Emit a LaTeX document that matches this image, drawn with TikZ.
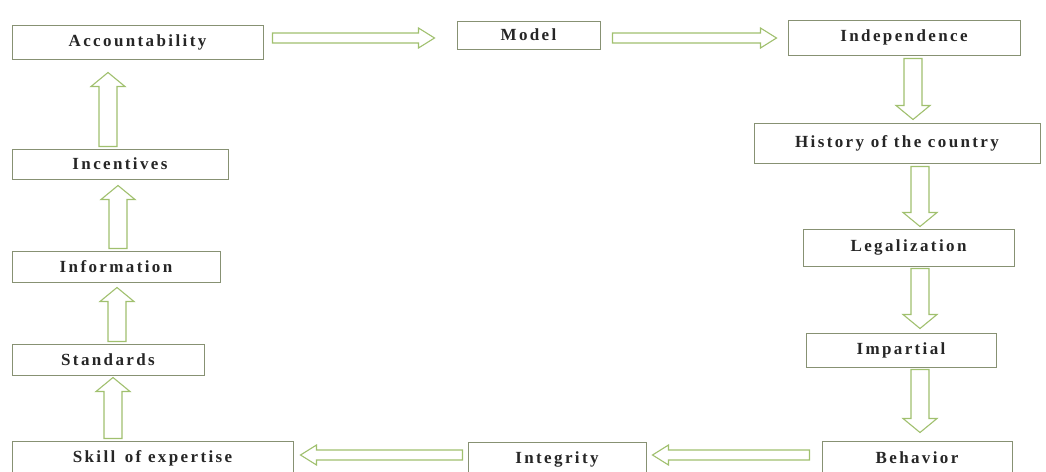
\documentclass[tikz,border=0pt]{standalone}
\usepackage{fontspec}
\usepackage{tikz}
\usepackage{xcolor}
\usetikzlibrary{calc}
\newfontfamily\boxfont{Liberation Serif}[LetterSpace=14]
\definecolor{boxline}{RGB}{135,145,115}
\definecolor{arrowgreen}{RGB}{160,192,110}
\tikzset{
  box/.style={draw=boxline, line width=1pt, fill=white, inner sep=0pt,
    font=\boxfont\bfseries\fontsize{17}{20}\selectfont, text=black!85},
  blockline/.style={draw=arrowgreen, line width=1.1pt, fill=white, line join=miter}
}
% hollow block arrow: shaft half width, head half width, head length, from, to
\newcommand{\barrow}[5]{%
  \coordinate (bs) at (#4);
  \coordinate (bt) at (#5);
  \coordinate (bh) at ($(bt)!#3pt!(bs)$);
  \draw[blockline] ($(bs)!#1pt!90:(bt)$) -- ($(bh)!#1pt!90:(bt)$) -- ($(bh)!#2pt!90:(bt)$)
    -- (bt) -- ($(bh)!#2pt!-90:(bt)$) -- ($(bh)!#1pt!-90:(bt)$) -- ($(bs)!#1pt!-90:(bt)$) -- cycle;}
\newcommand{\harrow}[2]{\barrow{5}{10}{16}{#1}{#2}}
\newcommand{\varrow}[2]{\barrow{9}{17}{14}{#1}{#2}}

\begin{document}
\begin{tikzpicture}[x=1pt,y=-1pt]
\useasboundingbox (0,0) rectangle (1046,471);
% top row
\node[box, minimum width=251pt, minimum height=34pt] (acc) at (137.5,42) {Accountability};
\node[box, minimum width=143pt, minimum height=28pt] (mod) at (528.5,35) {Model};
\node[box, minimum width=232pt, minimum height=35pt] (ind) at (904,37.5) {Independence};
% right column
\node[box, minimum width=286pt, minimum height=40pt] (his) at (897,143) {History of the country};
\node[box, minimum width=211pt, minimum height=37pt] (leg) at (908.5,247.5) {Legalization};
\node[box, minimum width=190pt, minimum height=34pt] (imp) at (901,350) {Impartial};
% bottom row
\node[box, minimum width=190pt, minimum height=34pt] (beh) at (917,458) {Behavior};
\node[box, minimum width=178pt, minimum height=34pt] (int) at (557,459) {Integrity};
\node[box, minimum width=281pt, minimum height=34pt] (skl) at (152.5,458) {Skill \,of expertise};
% left column
\node[box, minimum width=192pt, minimum height=31pt] (std) at (108,359.5) {Standards};
\node[box, minimum width=208pt, minimum height=31pt] (inf) at (116,266.5) {Information};
\node[box, minimum width=216pt, minimum height=30pt] (inc) at (120,164) {Incentives};

\harrow{$(acc.east)+(9,-4)$}{$(mod.west)+(-22,3)$}
\harrow{$(mod.east)+(12,3)$}{$(ind.west)+(-11,0.5)$}
\varrow{$(ind.south)+(9,3)$}{$(his.north)+(16,-3)$}
\varrow{$(his.south)+(23,3)$}{$(leg.north)+(11.5,-2)$}
\varrow{$(leg.south)+(11.5,2)$}{$(imp.north)+(19,-4)$}
\varrow{$(imp.south)+(19,2)$}{$(beh.north)+(3,-8)$}
\harrow{$(beh.west)+(-12,-3)$}{$(int.east)+(6,-4)$}
\harrow{$(int.west)+(-5,-4)$}{$(skl.east)+(7,-3)$}
\varrow{$(skl.north)+(-39.5,-2)$}{$(std.south)+(5,2)$}
\varrow{$(std.north)+(9,-2)$}{$(inf.south)+(1,5)$}
\varrow{$(inf.north)+(2,-2)$}{$(inc.south)+(-2,6)$}
\varrow{$(inc.north)+(-12,-2)$}{$(acc.south)+(-29.5,13)$}
\end{tikzpicture}
\end{document}
